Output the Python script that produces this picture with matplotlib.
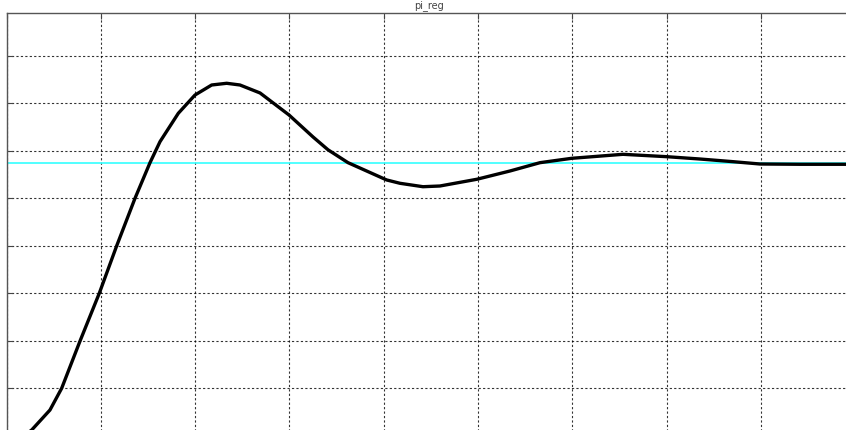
"""
# Step response of the PI regulator (pi_reg), grid only, no labels
"""

import numpy as np
import matplotlib
matplotlib.use('Agg')
import matplotlib.pyplot as plt
from matplotlib.ticker import MultipleLocator

### Data (grid units)
t_resp= [0.186, 0.267, 0.461, 0.585, 0.780, 0.984, 1.169, 1.363, 1.522, 1.628,
         1.822, 1.999, 2.176, 2.335, 2.476, 2.689, 2.996, 3.251, 3.410, 3.622,
         4.032, 4.173, 4.417, 4.597, 4.987, 5.340, 5.658, 5.995, 6.538, 7.002,
         7.355, 7.705, 7.991, 8.415, 9.500]
y_resp= [0.000, 0.122, 0.543, 1.000, 1.996, 3.000, 4.001, 5.000, 5.749, 6.191,
         6.788, 7.173, 7.384, 7.420, 7.384, 7.216, 6.753, 6.290, 6.020, 5.749,
         5.385, 5.315, 5.243, 5.258, 5.399, 5.574, 5.749, 5.841, 5.925, 5.875,
         5.826, 5.770, 5.721, 5.715, 5.715]
t_ref= [0.0, 9.5]
y_ref= [5.749, 5.749]
title= 'pi_reg'

def main():
    fig= plt.figure()
    fig.set_size_inches(8.46,4.30)

    ### axes run off the right and bottom of the picture
    left,top= 6.5/846, 1-13.3/430
    wd= 10*94.29/846
    ht= 8.893*47.51/430
    ax1= fig.add_axes([left,top-ht,wd,ht])

    ax1.plot(t_ref,y_ref,color='#33ffff',lw=1.2,zorder=2)
    ax1.plot(t_resp,y_resp,color='k',lw=2.4,solid_joinstyle='round',zorder=3)

    ax1.set_xlim(0,10)
    ax1.set_ylim(0,8.893)
    ax1.xaxis.set_major_locator(MultipleLocator(1))
    ax1.yaxis.set_major_locator(MultipleLocator(1))
    ax1.grid(which='major',color='k',lw=0.8,ls=(0,(2,2)),alpha=0.8)
    ax1.tick_params(axis='both',direction='in',length=4,top=True,
                    labelbottom=False,labelleft=False,color='#444444')
    for sp in ['top','left']:
        ax1.spines[sp].set_color('#555555')
        ax1.spines[sp].set_linewidth(1.0)

    fig.text(429/846,1-6/430,title,ha='center',va='center',fontsize=7,color='#444444')

    fnout= 'out.png'
    fig.savefig(fnout,dpi=100)
    print(fnout)
    return

if __name__=='__main__':
    main()
